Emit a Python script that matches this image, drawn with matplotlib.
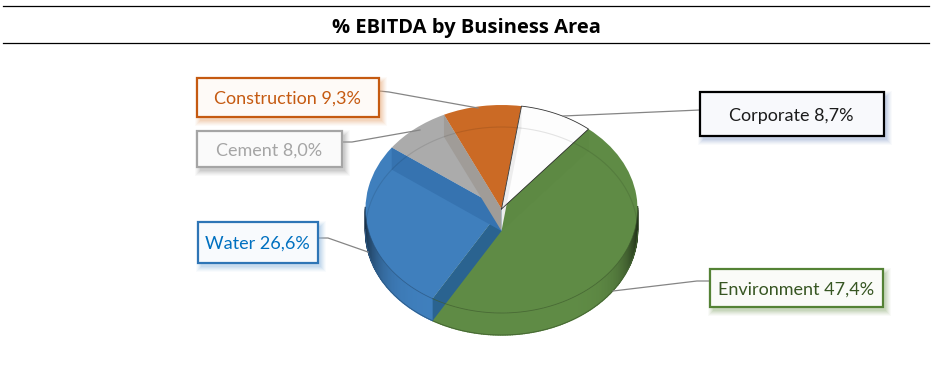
import numpy as np
import matplotlib
matplotlib.use("Agg")
import matplotlib.pyplot as plt
from matplotlib.colors import to_rgb
from matplotlib.patches import Rectangle, Polygon

# --- data ---
title = "% EBITDA by Business Area"
areas = ["Corporate", "Environment", "Water", "Cement", "Construction"]
shares = [8.7, 47.4, 26.6, 8.0, 9.3]

# --- styles ---
face_colors = ["#FDFDFD", "#5F8B45", "#3F7FBD", "#ABABAB", "#CB6A25"]
band_colors = ["#5D8943", "#2A6390", "#3673B0", "#A09C98", "#EDEDED"]  # wall seen at each slice's end
text_colors = {"Corporate": "#1C1C1C", "Environment": "#375623", "Water": "#0070C0",
               "Cement": "#A5A5A5", "Construction": "#C55A11"}
edge_colors = {"Corporate": "#000000", "Environment": "#548235", "Water": "#2E75B6",
               "Cement": "#A5A5A5", "Construction": "#C55A11"}
glow_colors = {"Corporate": "#8FA5D0", "Environment": "#8FAF78", "Water": "#8DB6E0",
               "Cement": "#9A9A9A", "Construction": "#E8A878"}
box_tints = {"Corporate": "#F8F9FC", "Environment": "#FAFBF8", "Water": "#F8FAFD",
             "Cement": "#FAFAFA", "Construction": "#FEFAF7"}
# box: x0, y0, x1, y1 in px; leader polyline in px
boxes = {"Construction": (197, 78, 379, 117), "Cement": (197, 131, 342, 167),
         "Water": (198, 222, 318, 263), "Corporate": (700, 92, 884, 136),
         "Environment": (710, 269, 883, 307)}
leaders = {"Construction": [(379, 91), (389, 92), (478, 108)],
           "Cement": [(342, 142), (352, 142), (420, 130)],
           "Water": [(318, 238), (328, 238), (368, 252)],
           "Corporate": [(700, 110), (563, 116)],
           "Environment": [(710, 281), (697, 281), (613, 291)]}
W, H = 931, 376
CX, CY, RX, RY, DEPTH = 501.5, 209.0, 136.0, 104.0, 22.0
d = DEPTH / RY
plt.rcParams["font.family"] = ["Lato", "DejaVu Sans"]

fig = plt.figure(figsize=(W / 100, H / 100), dpi=100, facecolor="white")

# pie axes: one data unit is RX px wide and RY px tall, which gives the tilted ellipse
ax = fig.add_axes([0, 0, 1, 1], zorder=2)
wedges, _ = ax.pie(shares, colors=face_colors, startangle=90 - 8.45, counterclock=False,
                   wedgeprops={"linewidth": 0, "zorder": 3}, radius=1.0)
ax.set_aspect("auto")
ax.set_xlim(-CX / RX, (W - CX) / RX)
ax.set_ylim(-(H - CY) / RY, CY / RY)
ax.axis("off")

def shade(col, k):
    return tuple(c * k for c in to_rgb(col))

for w, col in zip(wedges, face_colors):
    # outer side wall, darkened towards the left and right extremes
    ts = np.arange(w.theta1, w.theta2 + 1.0, 1.0)
    ts = np.clip(ts, w.theta1, w.theta2)
    for a, b in zip(ts[:-1], ts[1:]):
        mid = np.radians((a + b) / 2)
        if np.sin(mid) > 0.02:
            continue
        ra, rb = np.radians(a), np.radians(b)
        k = 1 - 0.6 * abs(np.cos(mid)) ** 9
        ax.add_patch(Polygon([(np.cos(ra), np.sin(ra)), (np.cos(rb), np.sin(rb)),
                              (np.cos(rb), np.sin(rb) - d), (np.cos(ra), np.sin(ra) - d)],
                             closed=True, fc=shade(col, k), ec=shade(col, k), lw=1.0, zorder=2))
    angles = np.radians(np.linspace(w.theta1, w.theta2, 120))
    front = angles[np.sin(angles) <= 0.02]
    if front.size:
        # outer bottom edge of the wall, and the front edge of the top face
        ax.plot(np.cos(front), np.sin(front) - d, color=shade(col, 0.72), lw=0.6, zorder=4)
        ax.plot(np.cos(front), np.sin(front), color=shade(col, 0.66), lw=0.6, alpha=0.7, zorder=5)

# radial walls, visible through the top
for w, bc in zip(wedges, band_colors):
    r = np.radians(w.theta1)
    x, y = np.cos(r), np.sin(r)
    ax.add_patch(Polygon([(0, 0), (x, y), (x, y - d), (0, -d)], closed=True,
                         fc=bc, ec="none", zorder=4))

# far edge of the base, seen through the translucent top
far = np.radians(np.linspace(0, 180, 240))
ax.plot(np.cos(far), np.sin(far) - d, color="black", lw=0.8, alpha=0.1, zorder=5)

# dark hairlines around the white slice
w = wedges[0]
t = np.radians(np.linspace(w.theta1, w.theta2, 60))
ax.plot(np.r_[0, np.cos(t), 0], np.r_[0, np.sin(t), 0], color="#333333", lw=0.6, zorder=6)

# overlay in pixel coordinates for title, boxes and leader lines
ov = fig.add_axes([0, 0, 1, 1], zorder=3)
ov.set_xlim(0, W)
ov.set_ylim(H, 0)
ov.axis("off")
ov.patch.set_alpha(0)
ov.plot([3, 929], [6, 6], color="black", lw=0.9)
ov.plot([3, 929], [43, 43], color="black", lw=0.9)
ov.text(466, 27.5, title, ha="center", va="center", fontsize=14.5, fontweight="bold",
        family=["Open Sans", "DejaVu Sans"], color="black")

for name, val in zip(areas, shares):
    x0, y0, x1, y1 = boxes[name]
    pts = leaders[name]
    ov.plot([p[0] for p in pts], [p[1] for p in pts], color="#858585", lw=0.9, zorder=1)
    for g, al in zip([5, 4, 3, 2, 1, 0], [0.05, 0.07, 0.09, 0.11, 0.13, 0.15]):
        ov.add_patch(Rectangle((x0 + 3 - g, y0 + 4 - g), x1 - x0 + 2 * g, y1 - y0 + 2 * g,
                               fc=glow_colors[name], ec="none", alpha=al, zorder=2))
    ov.add_patch(Rectangle((x0, y0), x1 - x0, y1 - y0, fc=box_tints[name],
                           ec=edge_colors[name], lw=1.6, zorder=3))
    label = f"{name} {val:.1f}%".replace(".", ",")
    ov.text((x0 + x1) / 2 - 0.5, (y0 + y1) / 2 + 1.5, label, ha="center", va="center", fontsize=13,
            color=text_colors[name], zorder=4)

fig.savefig("out.png", dpi=100, facecolor="white")
